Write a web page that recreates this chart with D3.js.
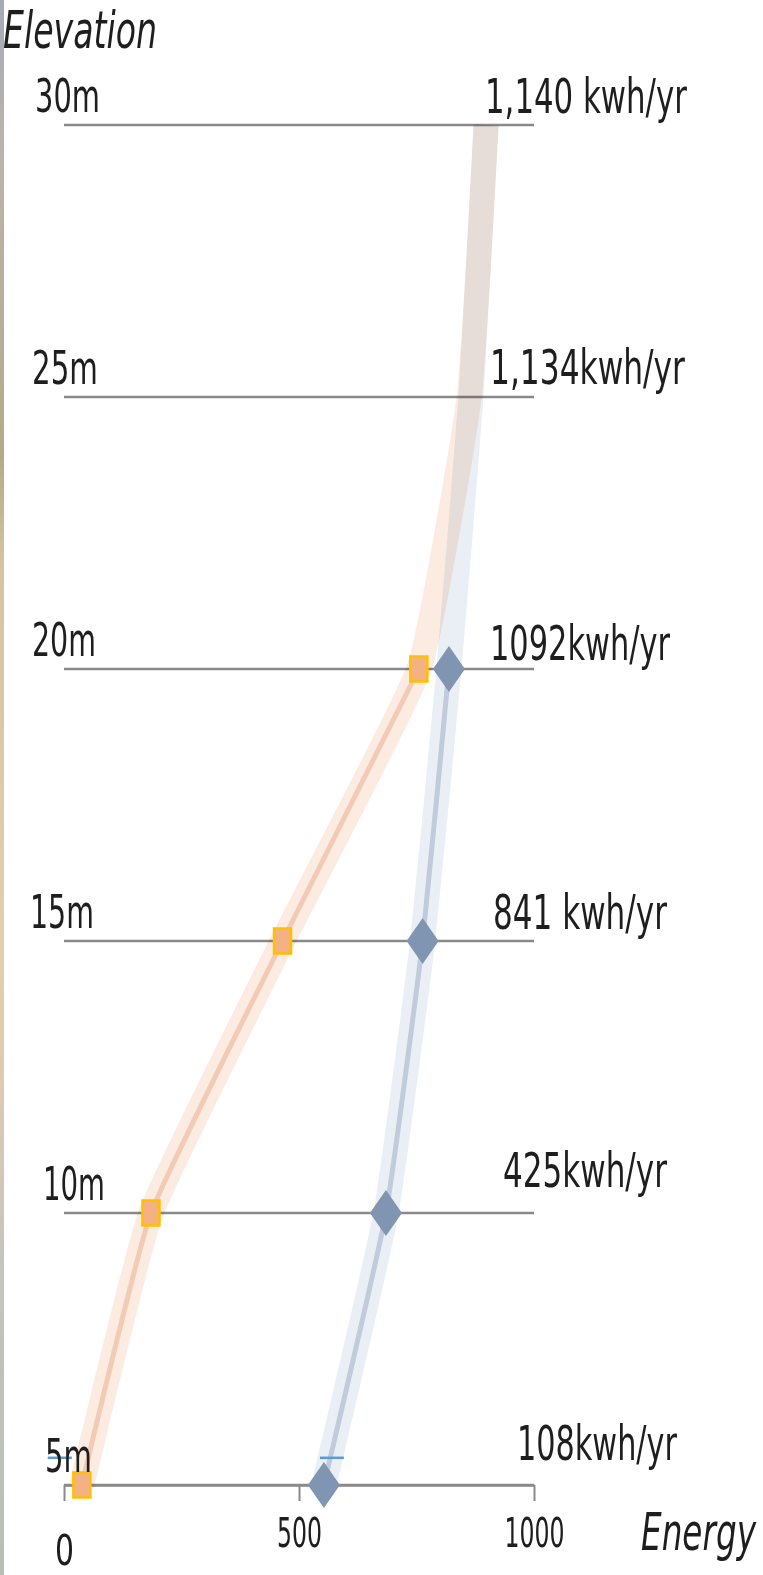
<!DOCTYPE html>
<html>
<head>
<meta charset="utf-8">
<script src="https://cdn.jsdelivr.net/npm/d3@7"></script>
<style>
  html, body { margin: 0; padding: 0; background: #fff; }
  svg { display: block; }
  text { font-family: "Liberation Sans Narrow", "DejaVu Sans Condensed", "Liberation Sans", sans-serif; fill: #1e1e1e; }
</style>
</head>
<body>
<div id="chart"></div>
<script>
// donnees
const elevations = [5, 10, 15, 20, 25, 30];
const elevationLabels = ["5m", "10m", "15m", "20m", "25m", "30m"];
const energyLabels = ["108kwh/yr", "425kwh/yr", "841 kwh/yr", "1092kwh/yr", "1,134kwh/yr", "1,140 kwh/yr"];
const orangeEnergy = [38, 185, 465, 755, 862, 898];
const blueEnergy = [553, 685, 763, 819, 866, 898];
const markerElevations = [5, 10, 15, 20];
const dashPoints = [[-9, 5.5], [570, 5.5]];
const xTicks = [0, 500, 1000];

const width = 763, height = 1575;

let svg = d3.select("#chart").append("svg")
    .attr("width", width)
    .attr("height", height);

// texte etire : on mesure puis on compresse horizontalement pour garder la largeur voulue
function fitText(sel, px, py, w) {
    sel.each(function (d, i) {
        let len = this.getComputedTextLength();
        let tx = typeof px === "function" ? px(d, i) : px;
        let ty = typeof py === "function" ? py(d, i) : py;
        let tw = typeof w === "function" ? w(d, i) : w;
        d3.select(this)
            .attr("x", 0).attr("y", 0)
            .attr("transform", "translate(" + tx + "," + ty + ") scale(" + (tw / len) + ",1)");
    });
}

// bande a gauche (degrade)
let grad = svg.append("defs").append("linearGradient")
    .attr("id", "strip").attr("x1", 0).attr("y1", 0).attr("x2", 0).attr("y2", 1);
[[0, "#a7abb8"], [0.1, "#bab4aa"], [0.29, "#b4aa8a"], [0.36, "#d5c4a2"], [0.6, "#e3cfaa"], [0.7, "#dccab4"], [0.8, "#c4c4bd"], [1, "#b8c0b8"]]
    .forEach(s => grad.append("stop").attr("offset", s[0]).attr("stop-color", s[1]));
svg.append("rect").attr("x", 0).attr("y", 0).attr("width", 4).attr("height", height).attr("fill", "url(#strip)");

let x = d3.scaleLinear().domain([0, 1000]).range([64, 534]);
let y = d3.scaleLinear().domain([5, 30]).range([1485, 125]);

// lignes horizontales
svg.append("g").selectAll("line")
    .data(elevations)
    .enter().append("line")
    .attr("x1", x(0)).attr("x2", x(1000))
    .attr("y1", d => y(d)).attr("y2", d => y(d))
    .attr("stroke", "#8a8a8a")
    .attr("stroke-width", 2.5);

// axe x
let axis = svg.append("g")
    .attr("transform", "translate(0," + y(5) + ")")
    .call(d3.axisBottom(x).tickValues(xTicks).tickFormat(d3.format("d")).tickSize(16).tickSizeOuter(0));
axis.select(".domain").attr("stroke", "#8a8a8a").attr("stroke-width", 2.5);
axis.selectAll(".tick line").attr("stroke", "#8a8a8a").attr("stroke-width", 2);
let tickText = axis.selectAll(".tick text")
    .attr("dy", null)
    .attr("font-size", d => d === 0 ? 43 : 40)
    .attr("font-family", null)
    .attr("fill", "#1e1e1e");
fitText(tickText, 0, d => d === 0 ? 1565 - y(5) : 1547 - y(5), d => d === 0 ? 19 : (d === 500 ? 45 : 60));

// courbes
let line = d3.line()
    .x(d => x(d[0]))
    .y(d => y(d[1]))
    .curve(d3.curveCardinal.tension(0.6));

let orangePts = orangeEnergy.map((v, i) => [v, elevations[i]]);
let bluePts = blueEnergy.map((v, i) => [v, elevations[i]]);

svg.append("path").attr("d", line(bluePts))
    .attr("fill", "none").attr("stroke", "#eaeff5").attr("stroke-width", 25)
    .style("mix-blend-mode", "multiply");
svg.append("path").attr("d", line(orangePts))
    .attr("fill", "none").attr("stroke", "#fbebe1").attr("stroke-width", 25)
    .style("mix-blend-mode", "multiply");

let lower = pts => pts.filter(p => markerElevations.includes(p[1]));
svg.append("path").attr("d", line(lower(orangePts)))
    .attr("fill", "none").attr("stroke", "#f6dccd").attr("stroke-width", 5)
    .style("mix-blend-mode", "multiply");
svg.append("path").attr("d", line(lower(bluePts)))
    .attr("fill", "none").attr("stroke", "#d2d9e5").attr("stroke-width", 5)
    .style("mix-blend-mode", "multiply");

// petits tirets bleus
svg.append("g").selectAll("line")
    .data(dashPoints)
    .enter().append("line")
    .attr("x1", d => x(d[0]) - 12).attr("x2", d => x(d[0]) + 12)
    .attr("y1", d => y(d[1])).attr("y2", d => y(d[1]))
    .attr("stroke", "#5b9bd5").attr("stroke-width", 2.5);

// marqueurs
svg.append("g").selectAll("path")
    .data(lower(bluePts))
    .enter().append("path")
    .attr("d", "M0,-23L16,0L0,23L-16,0Z")
    .attr("transform", d => "translate(" + x(d[0]) + "," + y(d[1]) + ")")
    .attr("fill", "#7f95b2");

svg.append("g").selectAll("rect")
    .data(lower(orangePts))
    .enter().append("rect")
    .attr("x", d => x(d[0]) - 8.5)
    .attr("y", d => y(d[1]) - 12.5)
    .attr("width", 17).attr("height", 25)
    .attr("fill", "#f4b183")
    .attr("stroke", "#ffc000").attr("stroke-width", 2.5);

// etiquettes a gauche
let leftX = [45, 43, 30, 32, 32, 35];
let leftW = [47, 62, 64, 64, 66, 65];
let leftText = svg.append("g").selectAll("text")
    .data(elevationLabels)
    .enter().append("text")
    .text(d => d)
    .attr("font-size", 47);
fitText(leftText, (d, i) => leftX[i], (d, i) => y(elevations[i]) - 13, (d, i) => leftW[i]);

// etiquettes a droite
let rightX = [517, 503, 493, 490, 490, 485];
let rightB = [1460, 1187, 929, 660, 384, 113];
let rightW = [160, 164, 174, 180, 195, 202];
let rightText = svg.append("g").selectAll("text")
    .data(energyLabels)
    .enter().append("text")
    .text(d => d)
    .attr("font-size", 48);
fitText(rightText, (d, i) => rightX[i], (d, i) => rightB[i], (d, i) => rightW[i]);

// titres des axes
let titreY = svg.append("text").text("Elevation")
    .attr("font-size", 51).attr("font-style", "italic");
fitText(titreY, 3, 48, 154);
let titreX = svg.append("text").text("Energy")
    .attr("font-size", 51).attr("font-style", "italic");
fitText(titreX, 641, 1550, 115);
</script>
</body>
</html>
